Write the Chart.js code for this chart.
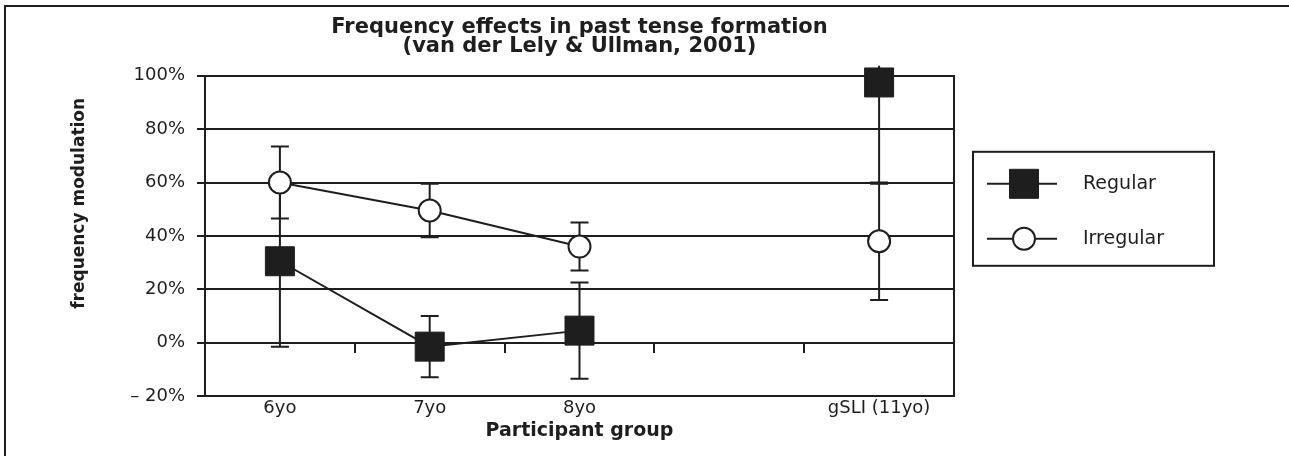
<!DOCTYPE html>
<html>
<head>
<meta charset="utf-8">
<title>Frequency effects in past tense formation</title>
<script src="https://cdn.jsdelivr.net/npm/chart.js@4/dist/chart.umd.min.js"></script>
<style>
    html, body { margin: 0; padding: 0; background: #fff; }
    #wrap { width: 1289px; height: 456px; position: relative; }
</style>
</head>
<body>
<div id="wrap"><canvas id="freqChart"></canvas></div>
<script>
// participant groups (the empty slot keeps gSLI apart, as in the figure)
const grupos = ['6yo', '7yo', '8yo', '', 'gSLI (11yo)'];

// frequency modulation in %
const regular = [30.5, -1.5, 4.5, null, 97.5];
const irregular = [60, 49.5, 36, null, 38];

// error bar half lengths (%)
const regularErr = [32, 11.5, 18, null, 38];
const irregularErr = [13.5, 10, 9, null, 22];

const yTicks = [-20, 0, 20, 40, 60, 80, 100];
const yTickLabels = ['– 20%', '0%', '20%', '40%', '60%', '80%', '100%'];

const tinta = '#1e1e1e';
const fonte = "'DejaVu Sans', 'Liberation Sans', Arial, sans-serif";

// outer frame of the figure (top and left edges)
const moldura = {
    id: 'moldura',
    afterDraw(chart) {
        const ctx = chart.ctx;
        ctx.save();
        ctx.strokeStyle = tinta;
        ctx.lineWidth = 2;
        ctx.beginPath();
        ctx.moveTo(5, chart.height);
        ctx.lineTo(5, 6);
        ctx.lineTo(chart.width, 6);
        ctx.stroke();
        ctx.restore();
    }
};

// vertical error bars with caps
const barrasErro = {
    id: 'barrasErro',
    beforeDatasetsDraw(chart) {
        const ctx = chart.ctx;
        const yScale = chart.scales.y;
        const area = chart.chartArea;
        const erros = [regularErr, irregularErr];
        ctx.save();
        ctx.beginPath();
        ctx.rect(area.left, area.top - 10, area.right - area.left, area.bottom - area.top + 20);
        ctx.clip();
        ctx.strokeStyle = tinta;
        ctx.lineWidth = 2;
        chart.data.datasets.forEach((ds, d) => {
            const meta = chart.getDatasetMeta(d);
            meta.data.forEach((pt, i) => {
                const v = ds.data[i];
                const e = erros[d][i];
                if (v === null || e === null) return;
                const yTop = yScale.getPixelForValue(v + e);
                const yBot = yScale.getPixelForValue(v - e);
                ctx.beginPath();
                ctx.moveTo(pt.x, yTop);
                ctx.lineTo(pt.x, yBot);
                ctx.moveTo(pt.x - 9, yTop);
                ctx.lineTo(pt.x + 9, yTop);
                ctx.moveTo(pt.x - 9, yBot);
                ctx.lineTo(pt.x + 9, yBot);
                ctx.stroke();
            });
        });
        ctx.restore();
    }
};

// boxed legend with line + marker samples
const legendaCaixa = {
    id: 'legendaCaixa',
    afterDraw(chart) {
        const ctx = chart.ctx;
        const area = chart.chartArea;
        const left = area.right + 19;
        const top = area.top + 76;
        const w = 241, h = 114;
        ctx.save();
        ctx.strokeStyle = tinta;
        ctx.lineWidth = 2;
        ctx.strokeRect(left, top, w, h);
        chart.data.datasets.forEach((ds, d) => {
            const y = top + 32 + d * 55;
            ctx.strokeStyle = tinta;
            ctx.lineWidth = 2;
            ctx.beginPath();
            ctx.moveTo(left + 14, y);
            ctx.lineTo(left + 84, y);
            ctx.stroke();
            ctx.fillStyle = ds.pointBackgroundColor;
            ctx.strokeStyle = ds.pointBorderColor;
            ctx.lineWidth = ds.pointBorderWidth;
            Chart.helpers.drawPoint(ctx, {
                pointStyle: ds.pointStyle,
                radius: ds.pointRadius,
                borderWidth: ds.pointBorderWidth,
                rotation: 0
            }, left + 51, y);
            ctx.fillStyle = tinta;
            ctx.font = `19px ${fonte}`;
            ctx.textBaseline = 'middle';
            ctx.textAlign = 'left';
            ctx.fillText(ds.label, left + 110, y);
        });
        ctx.restore();
    }
};

const ctx = document.getElementById('freqChart').getContext('2d');
const freqChart = new Chart(ctx, {
    type: 'line',
    data: {
        labels: grupos,
        datasets: [{
            label: 'Regular',
            data: regular,
            xAxisID: 'x',
            yAxisID: 'y',
            borderColor: tinta,
            borderWidth: 2,
            pointStyle: 'rect',
            pointRadius: 20.5,
            pointBackgroundColor: tinta,
            pointBorderColor: tinta,
            pointBorderWidth: 1,
            spanGaps: false,
            clip: false
        }, {
            label: 'Irregular',
            data: irregular,
            xAxisID: 'x',
            yAxisID: 'y',
            borderColor: tinta,
            borderWidth: 2,
            pointStyle: 'circle',
            pointRadius: 11,
            pointBackgroundColor: '#ffffff',
            pointBorderColor: tinta,
            pointBorderWidth: 2,
            spanGaps: false,
            clip: false
        }]
    },
    plugins: [moldura, barrasErro, legendaCaixa],
    options: {
        responsive: true,
        maintainAspectRatio: false,
        animation: false,
        layout: {
            padding: { left: 0, right: 335, top: 0, bottom: 0 }
        },
        plugins: {
            legend: { display: false },
            tooltip: { enabled: false },
            title: {
                display: true,
                fullSize: false,
                text: ['Frequency effects in past tense formation', '(van der Lely & Ullman, 2001)'],
                color: tinta,
                font: { family: fonte, size: 21, weight: 'bold', lineHeight: 0.9 },
                padding: { top: 18, bottom: 20 }
            }
        },
        scales: {
            x: {
                type: 'category',
                position: 'bottom',
                offset: true,
                grid: { display: false, drawTicks: false },
                border: { display: true, color: tinta, width: 2 },
                ticks: {
                    color: tinta,
                    padding: 2,
                    font: { family: fonte, size: 18 }
                },
                title: {
                    display: true,
                    text: 'Participant group',
                    color: tinta,
                    font: { family: fonte, size: 19, weight: 'bold' },
                    padding: { top: 0, bottom: 14 }
                },
                afterFit: s => { s.height = 60; }
            },
            x2: {
                type: 'category',
                axis: 'x',
                position: { y: 0 },
                offset: true,
                grid: {
                    display: true,
                    offset: true,
                    drawOnChartArea: false,
                    drawTicks: true,
                    tickLength: 10,
                    color: tinta,
                    lineWidth: 2
                },
                border: { display: false },
                ticks: { display: false }
            },
            y: {
                type: 'linear',
                position: 'left',
                min: -20,
                max: 100,
                afterBuildTicks: s => { s.ticks = yTicks.map(v => ({ value: v })); },
                grid: {
                    color: tinta,
                    lineWidth: 2,
                    tickLength: 8
                },
                border: { display: true, color: tinta, width: 2 },
                ticks: {
                    color: tinta,
                    padding: 12,
                    font: { family: fonte, size: 18 },
                    callback: function(value) {
                        return yTickLabels[yTicks.indexOf(value)];
                    }
                },
                title: {
                    display: true,
                    // leading spaces lift the rotated label a bit, as in the original figure
                    text: '\u00a0'.repeat(11) + 'frequency modulation',
                    color: tinta,
                    font: { family: fonte, size: 17, weight: 'bold' },
                    padding: { top: 69 }
                },
                afterFit: s => { s.width = 205; }
            },
            y2: {
                type: 'linear',
                position: 'right',
                min: -20,
                max: 100,
                grid: { drawOnChartArea: false, drawTicks: false },
                border: { display: true, color: tinta, width: 2 },
                ticks: { display: false },
                afterFit: s => { s.width = 0; }
            }
        }
    }
});
</script>
</body>
</html>
